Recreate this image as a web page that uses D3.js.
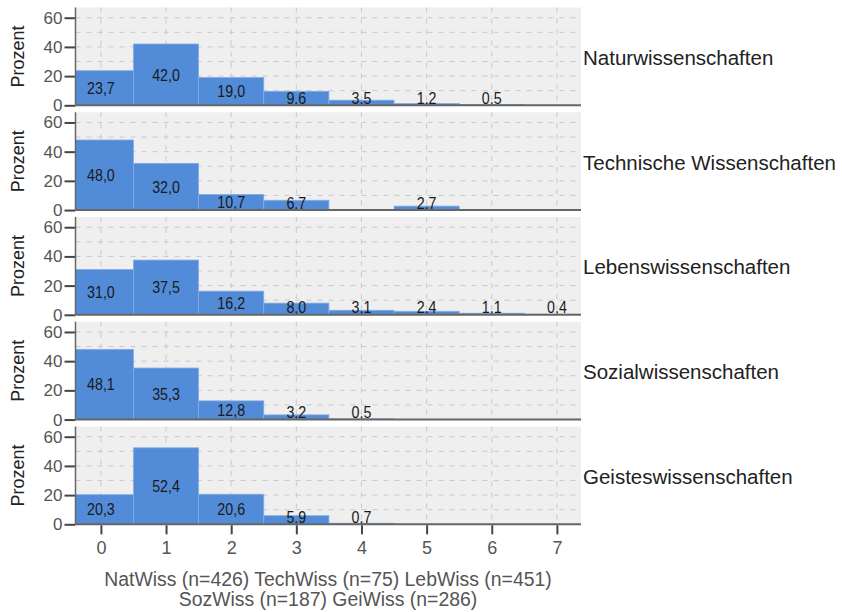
<!DOCTYPE html>
<html>
<head>
<meta charset="utf-8">
<script src="https://cdn.jsdelivr.net/npm/d3@7"></script>
<style>
  body { margin: 0; background: #fff; }
  text { font-family: Arial, "Liberation Sans", sans-serif; }
</style>
</head>
<body>
<div id="chart"></div>
<script>
// data
const bins = [0, 1, 2, 3, 4, 5, 6, 7];
const fields = ["Naturwissenschaften", "Technische Wissenschaften", "Lebenswissenschaften", "Sozialwissenschaften", "Geisteswissenschaften"];
const natWiss = [23.7, 42.0, 19.0, 9.6, 3.5, 1.2, 0.5, null];
const techWiss = [48.0, 32.0, 10.7, 6.7, null, 2.7, null, null];
const lebWiss = [31.0, 37.5, 16.2, 8.0, 3.1, 2.4, 1.1, 0.4];
const sozWiss = [48.1, 35.3, 12.8, 3.2, 0.5, null, null, null];
const geiWiss = [20.3, 52.4, 20.6, 5.9, 0.7, null, null, null];
const series = [natWiss, techWiss, lebWiss, sozWiss, geiWiss];
const yTicks = [0, 20, 40, 60];
const yGrid = [10, 20, 30, 40, 50, 60];
const xTitle = ["NatWiss (n=426) TechWiss (n=75) LebWiss (n=451)", "SozWiss (n=187) GeiWiss (n=286)"];

const width = 842, height = 612;
const left = 75.5, right = 581;
const firstBase = 105.3, step = 104.75, panelH = 97.8;

const svg = d3.select("#chart").append("svg")
  .attr("width", width).attr("height", height);

const x = d3.scaleLinear().domain([-0.39, 7.37]).range([left, right]);
const fmt = v => d3.format(".1f")(v).replace(".", ",");

series.forEach((vals, i) => {
  const base = firstBase + i * step;
  const y = d3.scaleLinear().domain([0, 67]).range([base, base - panelH]);
  const g = svg.append("g");

  // background
  g.append("rect")
    .attr("x", left).attr("y", base - panelH)
    .attr("width", right - left).attr("height", panelH)
    .attr("fill", "#efefef");

  // grid
  g.selectAll(".hg").data(yGrid).join("line")
    .attr("x1", left).attr("x2", right)
    .attr("y1", d => y(d)).attr("y2", d => y(d))
    .attr("stroke", "#c9c9c9").attr("stroke-dasharray", "5,6");
  g.selectAll(".vg").data(bins).join("line")
    .attr("x1", d => x(d)).attr("x2", d => x(d))
    .attr("y1", base - panelH).attr("y2", base)
    .attr("stroke", "#c9c9c9").attr("stroke-dasharray", "5,6");

  // bars
  const clipId = "clip" + i;
  g.append("clipPath").attr("id", clipId).append("rect")
    .attr("x", left).attr("y", base - panelH)
    .attr("width", right - left).attr("height", panelH);
  const data = bins.map((b, j) => ({ b, v: vals[j] })).filter(d => d.v != null);
  g.append("g").attr("clip-path", `url(#${clipId})`)
    .selectAll("rect").data(data).join("rect")
    .attr("x", d => x(d.b - 0.5)).attr("width", d => x(d.b + 0.5) - x(d.b - 0.5))
    .attr("y", d => y(d.v)).attr("height", d => base - y(d.v))
    .attr("fill", "#528bd7").attr("stroke", "#86ace4").attr("stroke-width", 0.8);

  // labels (tall, narrow look)
  g.selectAll(".lbl").data(data).join("text")
    .attr("text-anchor", "middle").attr("dominant-baseline", "central")
    .attr("font-size", 17).attr("fill", "#1a1a1a")
    .attr("transform", d => `translate(${x(d.b)},${Math.min(y(d.v / 2), base - 7.5)}) scale(0.84,1)`)
    .text(d => fmt(d.v));

  // y axis
  const yAxis = g.append("g").attr("transform", `translate(${left},0)`)
    .call(d3.axisLeft(y).tickValues(yTicks).tickSize(11).tickPadding(2));
  yAxis.select(".domain").remove();
  yAxis.selectAll(".tick line").attr("stroke", "#444").attr("stroke-width", 2);
  yAxis.selectAll(".tick text").attr("font-size", 17).attr("fill", "#555")
    .style("font-family", "Arial, 'Liberation Sans', sans-serif");
  g.append("line").attr("x1", left).attr("x2", left)
    .attr("y1", base - panelH).attr("y2", base)
    .attr("stroke", "#666").attr("stroke-width", 1.5);
  g.append("line").attr("x1", left).attr("x2", right)
    .attr("y1", base).attr("y2", base)
    .attr("stroke", "#666").attr("stroke-width", 2);

  // y title
  g.append("text")
    .attr("transform", `translate(24,${base - panelH / 2}) rotate(-90)`)
    .attr("text-anchor", "middle").attr("font-size", 18).attr("fill", "#222")
    .text("Prozent");

  // panel label
  g.append("text")
    .attr("x", 583).attr("y", base - panelH / 2 + 1)
    .attr("dominant-baseline", "central")
    .attr("font-size", 20.5).attr("fill", "#222")
    .text(fields[i]);
});

// x axis on last panel
const lastBase = firstBase + (series.length - 1) * step;
const xAxis = svg.append("g").attr("transform", `translate(0,${lastBase + 1})`)
  .call(d3.axisBottom(x).tickValues(bins).tickSize(9).tickPadding(7));
xAxis.select(".domain").remove();
xAxis.selectAll(".tick line").attr("stroke", "#444").attr("stroke-width", 2);
xAxis.selectAll(".tick text").attr("font-size", 18).attr("fill", "#555")
  .style("font-family", "Arial, 'Liberation Sans', sans-serif");

svg.selectAll(".xt").data(xTitle).join("text")
  .attr("x", 328).attr("y", (d, i) => 586 + i * 20)
  .attr("text-anchor", "middle").attr("font-size", 19.4).attr("fill", "#555")
  .text(d => d);
</script>
</body>
</html>
